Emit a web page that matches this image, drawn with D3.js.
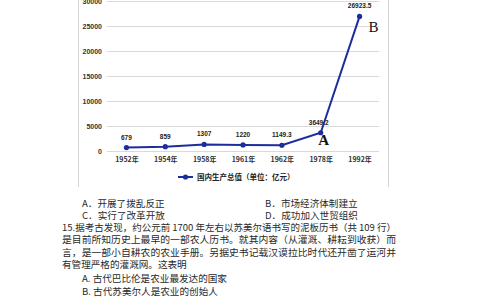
<!DOCTYPE html>
<html><head><meta charset="utf-8">
<script src="https://cdn.jsdelivr.net/npm/d3@7"></script>
<style>
html,body{margin:0;padding:0;background:#fff;}
svg{display:block;}
</style></head>
<body>
<svg id="c" width="484" height="300"></svg>
<script>
const years = ["1952年","1954年","1958年","1961年","1962年","1978年","1992年"];
const gdp = [679, 859, 1307, 1220, 1149.3, 3649.2, 26923.5];
const gdpLabels = ["679","859","1307","1220","1149.3","3649.2","26923.5"];
const yTicks = [0, 5000, 10000, 15000, 20000, 25000, 30000];
const legendText = "国内生产总值（单位：亿元）";
const options = [
  ["A．开展了拨乱反正", "B．市场经济体制建立"],
  ["C．实行了改革开放", "D．成功加入世贸组织"]
];
const questionLines = [
  "15.据考古发现，约公元前 1700 年左右以苏美尔语书写的泥板历书（共 109 行）",
  "是目前所知历史上最早的一部农人历书。就其内容（从灌溉、耕耘到收获）而",
  "言，是一部小自耕农的农业手册。另据史书记载汉谟拉比时代还开凿了运河并",
  "有管理严格的灌溉网。这表明"
];
const answers = ["A. 古代巴比伦是农业最发达的国家", "B. 古代苏美尔人是农业的创始人"];

const svg = d3.select("#c");
const cjk = "'Noto Sans CJK SC','Noto Sans',sans-serif";
const lineColor = "#1e2d9c";

// chart frame
svg.append("line").attr("x1",78.5).attr("x2",78.5).attr("y1",0).attr("y2",187).attr("stroke","#d4d4d4").attr("stroke-width",1);
svg.append("line").attr("x1",388.5).attr("x2",388.5).attr("y1",0).attr("y2",187).attr("stroke","#d4d4d4").attr("stroke-width",1);

const x = d3.scalePoint().domain(years).range([107,379]).padding(0.5);
const y = d3.scaleLinear().domain([0,30000]).range([151,1]);

// gridlines
svg.append("g").selectAll("line").data(yTicks).join("line")
  .attr("x1",107).attr("x2",379)
  .attr("y1",d=>Math.round(y(d))+0.5).attr("y2",d=>Math.round(y(d))+0.5)
  .attr("stroke","#d9d9d9").attr("stroke-width",1);

// y axis labels
const yAxis = d3.axisLeft(y).tickValues(yTicks).tickSize(0).tickPadding(5).tickFormat(d=>String(d));
const gy = svg.append("g").attr("transform","translate(107,0)").call(yAxis);
gy.select(".domain").remove();
gy.selectAll("text").attr("font-size",7).attr("font-family","'Liberation Sans',Arial,sans-serif").attr("font-weight","bold").attr("fill","#333");

// x axis labels
const xAxis = d3.axisBottom(x).tickSize(0).tickPadding(6);
const gx = svg.append("g").attr("transform","translate(0,151)").call(xAxis);
gx.select(".domain").remove();
gx.selectAll("text").attr("font-size",7).attr("font-family",cjk).attr("font-weight","bold").attr("fill","#333");

// line
const line = d3.line().x((d,i)=>x(years[i])).y(d=>y(d));
svg.append("path").datum(gdp).attr("d",line).attr("fill","none").attr("stroke",lineColor).attr("stroke-width",2);
svg.append("g").selectAll("circle").data(gdp).join("circle")
  .attr("cx",(d,i)=>x(years[i])).attr("cy",d=>y(d)).attr("r",2.6).attr("fill",lineColor);

// data labels
svg.append("g").selectAll("text").data(gdp).join("text")
  .attr("x",(d,i)=>x(years[i]) - (i===5?2:0))
  .attr("y",d=>y(d)-8)
  .attr("text-anchor","middle")
  .attr("font-size",6.5).attr("font-weight","bold")
  .attr("font-family","'Liberation Sans',Arial,sans-serif").attr("fill","#222")
  .text((d,i)=>gdpLabels[i]);

// letters A and B
svg.append("text").attr("x",x(years[5])+3).attr("y",y(gdp[5])+12).attr("text-anchor","middle")
  .attr("font-size",15).attr("font-family","'Liberation Serif',serif").attr("font-weight","bold").attr("fill","#111").text("A");
svg.append("text").attr("x",x(years[6])+14).attr("y",y(gdp[6])+16).attr("text-anchor","middle")
  .attr("font-size",15).attr("font-family","'Liberation Serif',serif").attr("fill","#111").text("B");

// legend
const lg = svg.append("g").attr("transform","translate(178,177)");
lg.append("line").attr("x1",0).attr("x2",15).attr("y1",0).attr("y2",0).attr("stroke",lineColor).attr("stroke-width",2);
lg.append("circle").attr("cx",7.5).attr("cy",0).attr("r",2.6).attr("fill",lineColor);
lg.append("text").attr("x",19).attr("y",3).attr("font-size",7.5).attr("font-weight","bold").attr("font-family",cjk).attr("fill","#222").text(legendText);

// question text
const tf = svg.append("g").attr("font-family",cjk).attr("font-size",9.6).attr("fill","#2a2a2a");
options.forEach((row,i)=>{
  tf.append("text").attr("x",82).attr("y",207+i*12).text(row[0]);
  tf.append("text").attr("x",265).attr("y",207+i*12).text(row[1]);
});
questionLines.forEach((t,i)=>{
  tf.append("text").attr("x",62).attr("y",231+i*12.3).attr("textLength",i<3?334:null).attr("lengthAdjust","spacingAndGlyphs").text(t);
});
answers.forEach((t,i)=>{
  tf.append("text").attr("x",82).attr("y",282+i*12.5).text(t);
});
</script>
</body></html>
